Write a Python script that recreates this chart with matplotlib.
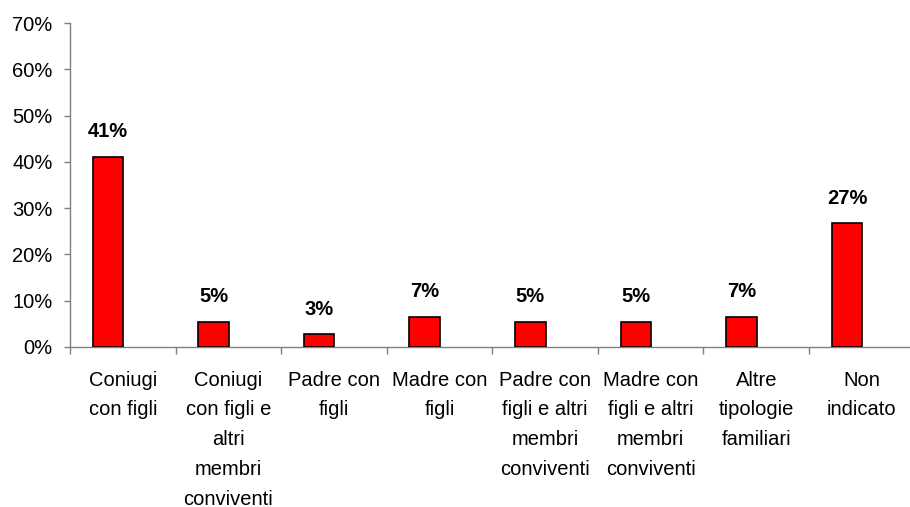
import matplotlib
matplotlib.use("Agg")
import matplotlib.pyplot as plt
import numpy as np
from matplotlib.ticker import FixedLocator, PercentFormatter

plt.rcParams['font.family'] = ['Liberation Sans', 'DejaVu Sans']

categories = [
    "Coniugi\ncon figli",
    "Coniugi\ncon figli e\naltri\nmembri\nconviventi",
    "Padre con\nfigli",
    "Madre con\nfigli",
    "Padre con\nfigli e altri\nmembri\nconviventi",
    "Madre con\nfigli e altri\nmembri\nconviventi",
    "Altre\ntipologie\nfamiliari",
    "Non\nindicato",
]
values = [41.1, 5.4, 2.7, 6.5, 5.4, 5.4, 6.5, 26.7]
value_labels = ["41%", "5%", "3%", "7%", "5%", "5%", "7%", "27%"]

fig = plt.figure(figsize=(9.1, 5.07), dpi=100)
ax = fig.add_axes([0.077, 0.3156, 0.928, 0.639])

x = np.arange(len(values))
bars = ax.bar(x - 0.14, values, width=0.29, color='#ff0000',
              edgecolor='black', linewidth=1.2, zorder=3)

for b, lab in zip(bars, value_labels):
    ax.annotate(lab, (b.get_x() + b.get_width() / 2, b.get_height()),
                xytext=(0, 18), textcoords='offset points',
                ha='center', va='center', fontsize=14.5, fontweight='bold')

ax.set_xlim(-0.5, len(values) - 0.5)
ax.set_ylim(0, 70)
ax.yaxis.set_major_locator(FixedLocator(np.arange(0, 71, 10)))
ax.yaxis.set_major_formatter(PercentFormatter(decimals=0))

ax.set_xticks(x)
ax.set_xticklabels(categories, fontsize=14.5, linespacing=1.72)
ax.xaxis.set_minor_locator(FixedLocator(np.arange(-0.5, len(values), 1.0)))
ax.tick_params(axis='x', which='major', length=0, pad=17)
ax.tick_params(axis='x', which='minor', length=5, color='#808080', width=1)
ax.tick_params(axis='y', labelsize=14.5, length=4.5, color='#808080',
               width=1, pad=8)

for s in ['top', 'right']:
    ax.spines[s].set_visible(False)
for s in ['left', 'bottom']:
    ax.spines[s].set_color('#808080')
    ax.spines[s].set_linewidth(1)

fig.savefig('out.png', dpi=100)
